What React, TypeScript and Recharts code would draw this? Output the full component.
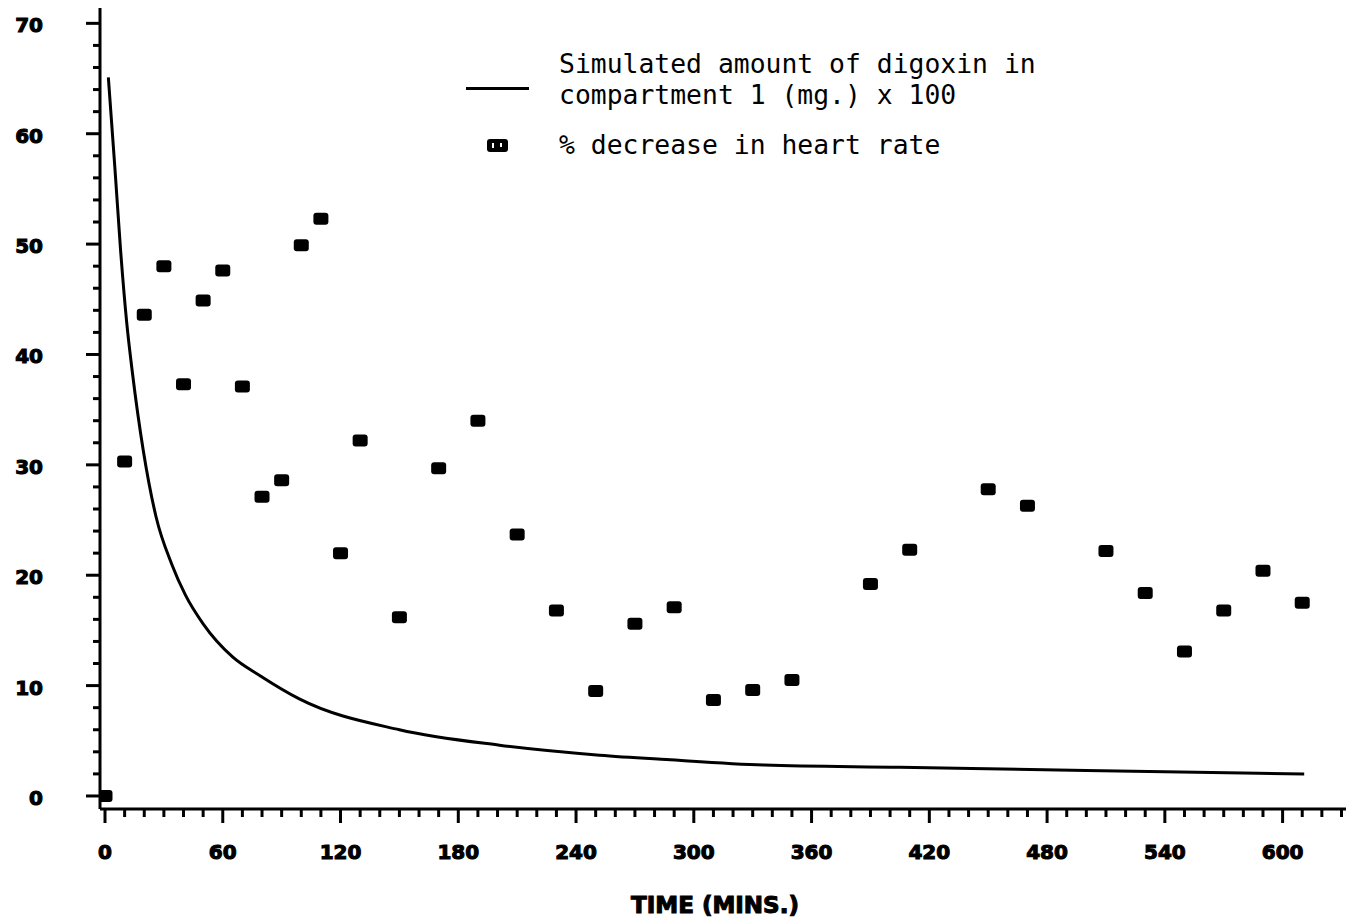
import { ComposedChart, Line, Scatter, XAxis, YAxis } from 'recharts';

// Observed response: % decrease in heart rate at each sampling time (min)
const sampleMinutes = [
  0, 10, 20, 30, 40, 50, 60, 70, 80, 90, 100, 110, 120, 130, 150, 170, 190, 210,
  230, 250, 270, 290, 310, 330, 350, 390, 410, 450, 470, 510, 530, 550, 570, 590, 610,
];
const heartRateDecrease = [
  0, 30.3, 43.6, 48.0, 37.3, 44.9, 47.6, 37.1, 27.1, 28.6, 49.9, 52.3, 22.0, 32.2,
  16.2, 29.7, 34.0, 23.7, 16.8, 9.5, 15.6, 17.1, 8.7, 9.6, 10.5, 19.2, 22.3, 27.8,
  26.3, 22.2, 18.4, 13.1, 16.8, 20.4, 17.5,
];

// Simulated digoxin amount in compartment 1 (mg x 100)
const curveMinutes = [1.7, 5, 8, 11, 14, 19.5, 26, 34, 41, 50, 65, 79, 99, 150, 201, 252, 286, 336, 405, 500, 611];
const digoxinAmount = [65.1, 57, 49.3, 43, 38.3, 31.3, 25.3, 21, 18.2, 15.6, 12.6, 10.9, 8.8, 6.0, 4.6, 3.7, 3.3, 2.8, 2.6, 2.3, 2.0];

const timeLabels = [0, 60, 120, 180, 240, 300, 360, 420, 480, 540, 600];
const valueLabels = [0, 10, 20, 30, 40, 50, 60, 70];

const minorTimeTicks = Array.from({ length: 64 }, (_, i) => i * 10);
const minorValueTicks = Array.from({ length: 36 }, (_, i) => i * 2);

const heartData = sampleMinutes.map((t, i) => ({ t, v: heartRateDecrease[i] }));
const curveData = curveMinutes.map((t, i) => ({ t, v: digoxinAmount[i] }));

const tickFont = {
  fontFamily: '"DejaVu Sans", sans-serif',
  fontWeight: 700,
  fontSize: 20,
  fill: '#000',
  stroke: '#000',
  strokeWidth: 1.1,
};

const TimeTick = ({ x, y, payload }: any) => {
  const major = timeLabels.includes(payload.value);
  return (
    <g>
      <line x1={x} x2={x} y1={y} y2={y + (major ? 14 : 8)} stroke="#000" strokeWidth={3} />
      {major && (
        <text x={x} y={y + 50} textAnchor="middle" {...tickFont}>
          {payload.value}
        </text>
      )}
    </g>
  );
};

const ValueTick = ({ x, y, payload }: any) => {
  const major = valueLabels.includes(payload.value);
  return (
    <g>
      <line x1={x} x2={x - (major ? 14 : 7)} y1={y} y2={y} stroke="#000" strokeWidth={3} />
      {major && (
        <text x={43} y={y + 9} textAnchor="end" {...tickFont}>
          {payload.value}
        </text>
      )}
    </g>
  );
};

const Block = ({ cx, cy }: any) => (
  <rect x={cx - 7.5} y={cy - 6} width={15} height={12} rx={3} fill="#000" />
);

const legendFont = {
  fontFamily: '"DejaVu Sans Mono", monospace',
  fontSize: 26.4,
  color: '#000',
  lineHeight: '31px',
  whiteSpace: 'pre' as const,
};

export default function App() {
  return (
    <div style={{ position: 'relative', width: 1346, height: 918, background: '#fff' }}>
      <style>{'body{margin:0;background:#fff}'}</style>
      <ComposedChart
        width={1346}
        height={918}
        margin={{ top: 8, right: 0, bottom: 0, left: 0 }}
      >
        <XAxis
          type="number"
          dataKey="t"
          domain={[-2.55, 632.3]}
          allowDataOverflow
          ticks={minorTimeTicks}
          interval={0}
          tick={<TimeTick />}
          tickLine={false}
          tickSize={0}
          tickMargin={0}
          height={109}
          axisLine={{ stroke: '#000', strokeWidth: 3 }}
          label={{
            content: () => (
              <text x={715} y={913} textAnchor="middle" {...tickFont} fontSize={23}>
                TIME (MINS.)
              </text>
            ),
          }}
        />
        <YAxis
          type="number"
          dataKey="v"
          domain={[-1.18, 71.39]}
          allowDataOverflow
          ticks={minorValueTicks}
          interval={0}
          tick={<ValueTick />}
          tickLine={false}
          tickSize={0}
          tickMargin={0}
          width={100}
          axisLine={{ stroke: '#000', strokeWidth: 3 }}
        />
        <Line
          data={curveData}
          dataKey="v"
          type="monotone"
          stroke="#000"
          strokeWidth={3}
          dot={false}
          activeDot={false}
          isAnimationActive={false}
        />
        <Scatter data={heartData} dataKey="v" shape={<Block />} isAnimationActive={false} />
      </ComposedChart>

      {/* legend */}
      <div style={{ position: 'absolute', left: 466, top: 87, width: 63, height: 3, background: '#000' }} />
      <div style={{ ...legendFont, position: 'absolute', left: 559, top: 48 }}>
        {'Simulated amount of digoxin in\ncompartment 1 (mg.) x 100'}
      </div>
      <svg style={{ position: 'absolute', left: 487, top: 139 }} width={22} height={14}>
        <rect x={0} y={0} width={21} height={13} rx={3} fill="#000" />
        <rect x={5} y={4} width={2} height={5} fill="#fff" />
        <rect x={13} y={4} width={2} height={4} fill="#fff" />
      </svg>
      <div style={{ ...legendFont, position: 'absolute', left: 559, top: 129 }}>
        % decrease in heart rate
      </div>
    </div>
  );
}
